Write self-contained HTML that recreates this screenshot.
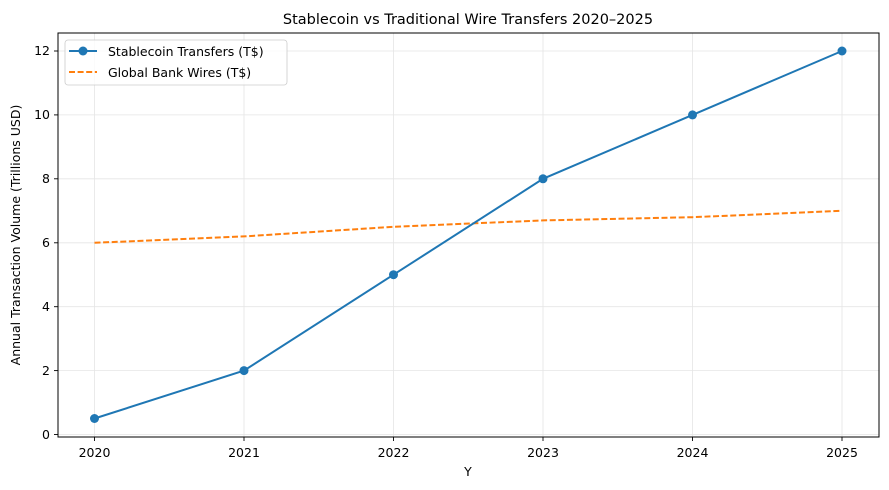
<!DOCTYPE html>
<html><head><style>body{margin:0;background:#fff}svg{display:block}text{font-family:"DejaVu Sans","Liberation Sans",sans-serif;fill:#000}</style></head><body>
<svg width="889" height="490" xmlns="http://www.w3.org/2000/svg">
<g stroke="#e5e5e5" stroke-width="0.8">
<line x1="94.5" y1="33" x2="94.5" y2="437"/><line x1="244" y1="33" x2="244" y2="437"/><line x1="393.5" y1="33" x2="393.5" y2="437"/><line x1="543" y1="33" x2="543" y2="437"/><line x1="692.5" y1="33" x2="692.5" y2="437"/><line x1="842" y1="33" x2="842" y2="437"/>
<line x1="58" y1="434.5" x2="879" y2="434.5"/><line x1="58" y1="370.6" x2="879" y2="370.6"/><line x1="58" y1="306.7" x2="879" y2="306.7"/><line x1="58" y1="242.8" x2="879" y2="242.8"/><line x1="58" y1="178.8" x2="879" y2="178.8"/><line x1="58" y1="114.9" x2="879" y2="114.9"/><line x1="58" y1="51" x2="879" y2="51"/>
</g>
<polyline fill="none" stroke="#ff7f0e" stroke-width="2" stroke-dasharray="6,2.6" points="94.5,242.8 244,236.4 393.5,226.8 543,220.4 692.5,217.2 842,210.8"/>
<polyline fill="none" stroke="#1f77b4" stroke-width="2" points="94.5,418.5 244,370.6 393.5,274.7 543,178.8 692.5,114.9 842,51"/>
<g fill="#1f77b4"><circle cx="94.5" cy="418.5" r="4.5"/><circle cx="244" cy="370.6" r="4.5"/><circle cx="393.5" cy="274.7" r="4.5"/><circle cx="543" cy="178.8" r="4.5"/><circle cx="692.5" cy="114.9" r="4.5"/><circle cx="842" cy="51" r="4.5"/></g>
<rect x="58" y="33" width="821" height="404" fill="none" stroke="#000" stroke-width="1"/>
<g stroke="#000" stroke-width="0.9">
<line x1="94.5" y1="437" x2="94.5" y2="441"/><line x1="244" y1="437" x2="244" y2="441"/><line x1="393.5" y1="437" x2="393.5" y2="441"/><line x1="543" y1="437" x2="543" y2="441"/><line x1="692.5" y1="437" x2="692.5" y2="441"/><line x1="842" y1="437" x2="842" y2="441"/>
<line x1="54" y1="434.5" x2="58" y2="434.5"/><line x1="54" y1="370.6" x2="58" y2="370.6"/><line x1="54" y1="306.7" x2="58" y2="306.7"/><line x1="54" y1="242.8" x2="58" y2="242.8"/><line x1="54" y1="178.8" x2="58" y2="178.8"/><line x1="54" y1="114.9" x2="58" y2="114.9"/><line x1="54" y1="51" x2="58" y2="51"/>
</g>
<g font-size="12.5" text-anchor="middle">
<text x="94.5" y="457">2020</text><text x="244" y="457">2021</text><text x="393.5" y="457">2022</text><text x="543" y="457">2023</text><text x="692.5" y="457">2024</text><text x="842" y="457">2025</text>
</g>
<g font-size="12.5" text-anchor="end">
<text x="50" y="439">0</text><text x="50" y="375">2</text><text x="50" y="311">4</text><text x="50" y="247">6</text><text x="50" y="183">8</text><text x="50" y="119">10</text><text x="50" y="55">12</text>
</g>
<text x="468" y="476" font-size="12.5" text-anchor="middle">Y</text>
<text transform="translate(20,235) rotate(-90)" font-size="12.5" text-anchor="middle">Annual Transaction Volume (Trillions USD)</text>
<text x="468" y="24" font-size="14.5" text-anchor="middle">Stablecoin vs Traditional Wire Transfers 2020–2025</text>
<rect x="65" y="40" width="222" height="45" rx="3" fill="#fff" fill-opacity="0.8" stroke="#ccc" stroke-width="0.8"/>
<line x1="69" y1="51" x2="97" y2="51" stroke="#1f77b4" stroke-width="2"/><circle cx="83" cy="51" r="4.5" fill="#1f77b4"/>
<line x1="69" y1="72" x2="97" y2="72" stroke="#ff7f0e" stroke-width="2" stroke-dasharray="6,2.6"/>
<text x="108" y="56" font-size="12.5">Stablecoin Transfers (T$)</text>
<text x="108" y="77" font-size="12.5">Global Bank Wires (T$)</text>
</svg>
</body></html>
